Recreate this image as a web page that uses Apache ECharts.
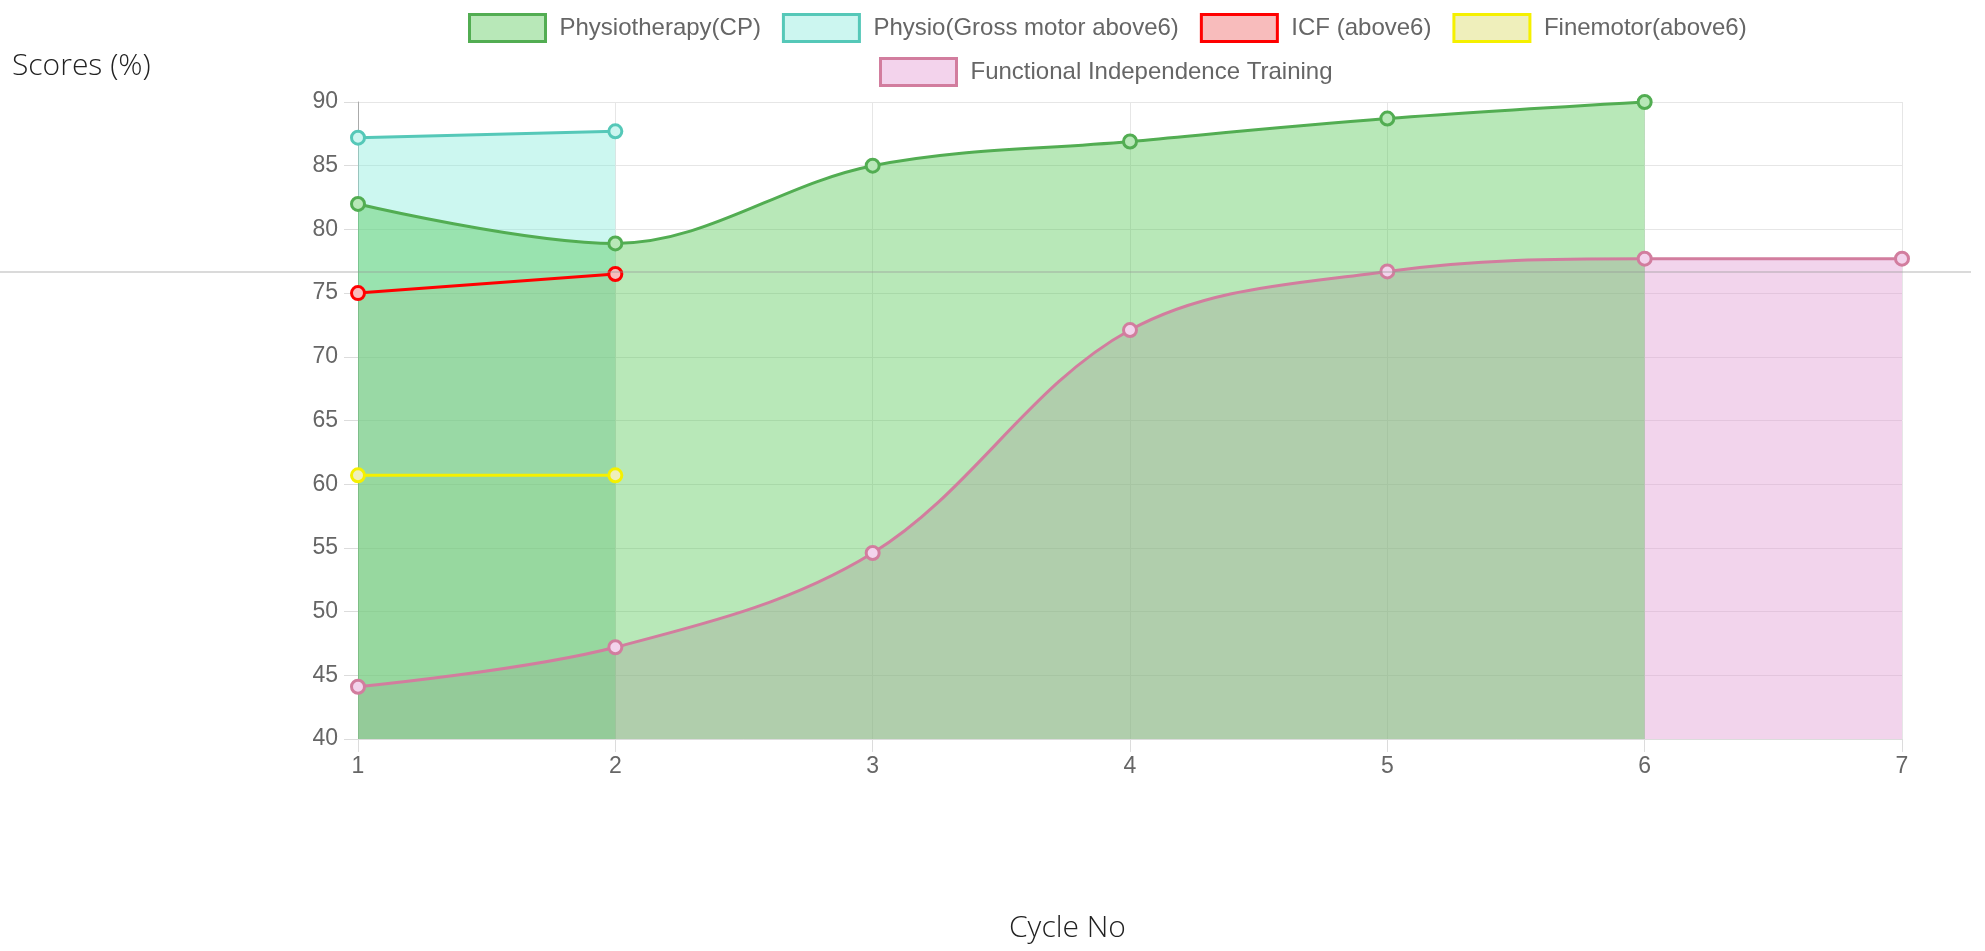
<!DOCTYPE html>
<html>
<head>
<meta charset="utf-8">
<script src="https://cdn.jsdelivr.net/npm/echarts@6/dist/echarts.min.js"></script>
<style>
  html, body { margin: 0; padding: 0; background: #fff; }
  #chart { width: 1985px; height: 951px; }
</style>
</head>
<body>
<div id="chart"></div>
<script>
// ---- data ----
const cycles = ['1', '2', '3', '4', '5', '6', '7'];
const yTicks = [40, 45, 50, 55, 60, 65, 70, 75, 80, 85, 90];
const seriesNames = ['Physiotherapy(CP)', 'Physio(Gross motor above6)', 'ICF (above6)', 'Finemotor(above6)', 'Functional Independence Training'];
const physioCP   = [82, 78.9, 85, 86.9, 88.7, 90, null];
const grossMotor = [87.2, 87.7, null, null, null, null, null];
const icf        = [75, 76.5, null, null, null, null, null];
const fineMotor  = [60.7, 60.7, null, null, null, null, null];
const fit        = [44.1, 47.2, 54.6, 72.1, 76.7, 77.7, 77.7];
const yAxisTitle = 'Scores (%)';
const xAxisTitle = 'Cycle No';

// ---- styles ----
const styles = [
  { data: physioCP,   line: '#52ad52', area: 'rgba(78,198,78,0.4)',   legend: '#b8e8b8' },
  { data: grossMotor, line: '#55c8b8', area: 'rgba(128,235,218,0.4)', legend: '#ccf6f0' },
  { data: icf,        line: '#ff0000', area: 'rgba(255,0,0,0.1)',     legend: '#f8bcbc' },
  { data: fineMotor,  line: '#f5f000', area: 'rgba(200,200,0,0.08)',  legend: '#efefbb' },
  { data: fit,        line: '#d27d9e', area: 'rgba(222,148,208,0.4)', legend: '#f3d3ec' }
];

const areaSeries = [];
const lineSeries = [];
for (let i = styles.length - 1; i >= 0; i--) {
  const s = styles[i];
  areaSeries.push({
    name: seriesNames[i], type: 'line', data: s.data, smooth: 0.35,
    symbol: 'none', silent: true, z: 1,
    lineStyle: { width: 0, opacity: 0 },
    areaStyle: { color: s.area, opacity: 1 }
  });
  lineSeries.push({
    name: seriesNames[i], type: 'line', data: s.data, smooth: 0.35,
    symbol: 'circle', symbolSize: 13, showSymbol: true, z: 3,
    lineStyle: { width: 3, color: s.line },
    itemStyle: { color: s.legend, borderColor: s.line, borderWidth: 3 }
  });
}

const legendText = { color: '#666', fontSize: 24, fontFamily: 'Liberation Sans, Arial, sans-serif', padding: [0, 0, 0, 9] };
function legendItem(i) {
  return { name: seriesNames[i], icon: 'rect',
    itemStyle: { color: styles[i].legend, borderColor: styles[i].line, borderWidth: 3 } };
}

const chart = echarts.init(document.getElementById('chart'));
chart.setOption({
  animation: false,
  backgroundColor: '#fff',
  legend: [
    { left: 463, top: 8, itemWidth: 76, itemHeight: 27, itemGap: 21, selectedMode: false,
      data: [0, 1, 2, 3].map(legendItem), textStyle: legendText },
    { left: 874, top: 52, itemWidth: 76, itemHeight: 27, itemGap: 21, selectedMode: false,
      data: [4].map(legendItem), textStyle: legendText }
  ],
  grid: { left: 358, right: 83, top: 102, bottom: 212 },
  xAxis: {
    type: 'category', data: cycles, boundaryGap: false,
    axisLine: { show: true, lineStyle: { color: '#dcdcdc', width: 1 } },
    axisTick: { show: true, length: 13, lineStyle: { color: '#dcdcdc' } },
    axisLabel: { color: '#666', fontSize: 23, fontFamily: 'Liberation Sans, Arial, sans-serif', margin: 16 },
    splitLine: { show: true, lineStyle: { color: '#e6e6e6', width: 1 } }
  },
  yAxis: {
    type: 'value', min: 40, max: 90, interval: 5,
    axisLine: { show: true, lineStyle: { color: '#aaa', width: 1 } },
    axisTick: { show: true, length: 14, lineStyle: { color: '#dcdcdc' } },
    axisLabel: { color: '#666', fontSize: 23, fontFamily: 'Liberation Sans, Arial, sans-serif', margin: 20,
      formatter: v => (yTicks.indexOf(v) >= 0 ? String(v) : '') },
    splitLine: { show: true, lineStyle: { color: '#e6e6e6', width: 1 } }
  },
  graphic: [
    { type: 'text', x: 12, y: 66, z: 10,
      style: { text: yAxisTitle, fill: '#222', verticalAlign: 'middle', font: '300 30px "Open Sans", "Noto Sans", sans-serif' } },
    { type: 'text', x: 1009, y: 928, z: 10,
      style: { text: xAxisTitle, fill: '#222', verticalAlign: 'middle', font: '300 30px "Open Sans", "Noto Sans", sans-serif' } },
    { type: 'line', z: 100, silent: true,
      shape: { x1: 0, y1: 272, x2: 1971, y2: 272 },
      style: { stroke: 'rgba(150,150,150,0.35)', lineWidth: 2 } }
  ],
  series: areaSeries.concat(lineSeries)
});
</script>
</body>
</html>
